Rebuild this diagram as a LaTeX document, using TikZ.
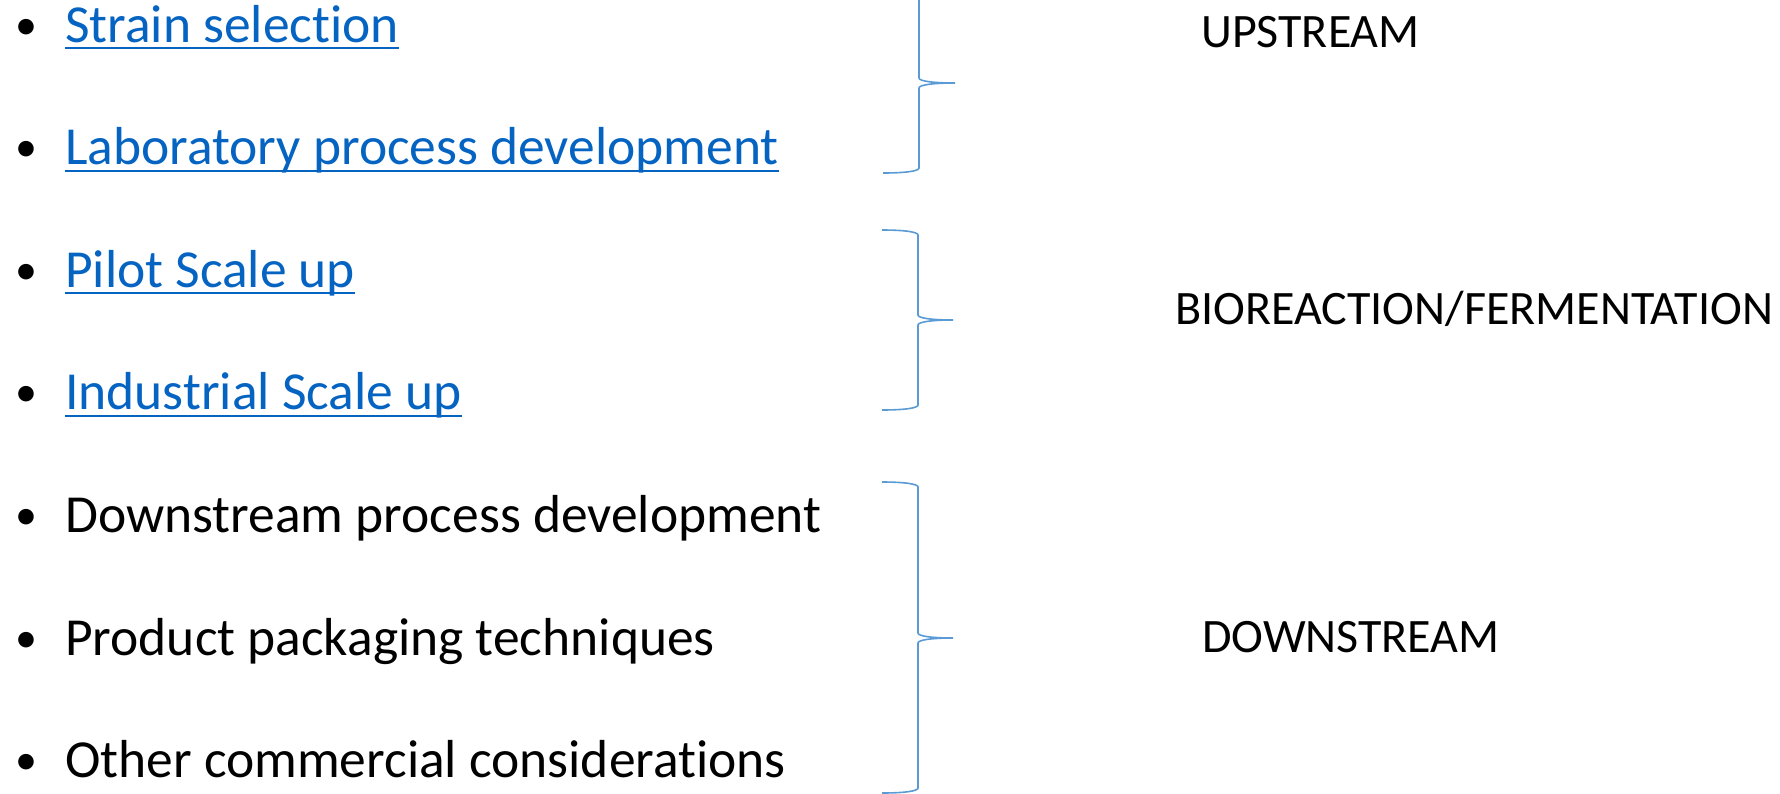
\documentclass[tikz,border=0pt]{standalone}
\usepackage{fontspec}
\setmainfont{Carlito}[Ligatures=NoCommon]
\definecolor{linkblue}{HTML}{0563C1}
\definecolor{bracecol}{HTML}{5B9BD5}
\begin{document}
\begin{tikzpicture}[x=1pt,y=-1pt,
  item/.style={anchor=base west, inner sep=0pt, font=\fontsize{53.5}{60}\selectfont},
  link/.style={item, text=linkblue},
  dot/.style={anchor=base, inner sep=0pt, font=\fontsize{44}{50}\selectfont},
  linkline/.style={draw=linkblue, line width=2.2pt},
  stage/.style={anchor=base west, inner sep=0pt, font=\fontsize{48}{54}\selectfont},
  curly/.style={draw=bracecol, line width=1.6pt}]
\useasboundingbox (0,0) rectangle (1780,793);
% bullets
\node[dot] (b1) at (26,39) {•};
\node[dot] (b2) at (26,161.6) {•};
\node[dot] (b3) at (26,284.2) {•};
\node[dot] (b4) at (26,406.8) {•};
\node[dot] (b5) at (26,529.4) {•};
\node[dot] (b6) at (26,652) {•};
\node[dot] (b7) at (26,774.6) {•};
% items
\node[link] (strain) at (65,42) {Strain selection};
\node[link] (lab) at (65,164.6) {Laboratory process development};
\node[link] (pilot) at (65,287.2) {Pilot Scale up};
\node[link] (industrial) at (65,409.8) {Industrial Scale up};
\node[item] (downproc) at (65,532.4) {Downstream process development};
\node[item] (packaging) at (65,655) {Product packaging techniques};
\node[item] (other) at (65,777.6) {Other commercial considerations};
% underlines
\draw[linkline] ([yshift=-6pt]strain.base west) -- ([yshift=-6pt]strain.base east);
\draw[linkline] ([yshift=-6pt]lab.base west) -- ([yshift=-6pt]lab.base east);
\draw[linkline] ([yshift=-6pt]pilot.base west) -- ([yshift=-6pt]pilot.base east);
\draw[linkline] ([yshift=-6pt]industrial.base west) -- ([yshift=-6pt]industrial.base east);
% braces
\draw[curly] (883,-7) .. controls (906,-7) and (919,-5) .. (919,-2) -- (919,78)
  .. controls (919,81) and (932,83) .. (955,83) .. controls (932,83) and (919,85) .. (919,88)
  -- (919,168) .. controls (919,171) and (906,173) .. (883,173);
\draw[curly] (882,230) .. controls (905,230) and (918,232) .. (918,235) -- (918,315)
  .. controls (918,318) and (931,320) .. (953,320) .. controls (931,320) and (918,322) .. (918,325)
  -- (918,405) .. controls (918,408) and (905,410) .. (882,410);
\draw[curly] (882,482) .. controls (905,482) and (918,484) .. (918,487) -- (918,633)
  .. controls (918,636) and (931,638) .. (953,638) .. controls (931,638) and (918,640) .. (918,643)
  -- (918,788) .. controls (918,791) and (905,793) .. (882,793);
% stages
\node[stage] (upstream) at (1201,47) {UPSTREAM};
\node[stage] (bioreaction) at (1175,324) {BIOREACTION/FERMENTATION};
\node[stage] (downstream) at (1202,652) {DOWNSTREAM};
\end{tikzpicture}
\end{document}
